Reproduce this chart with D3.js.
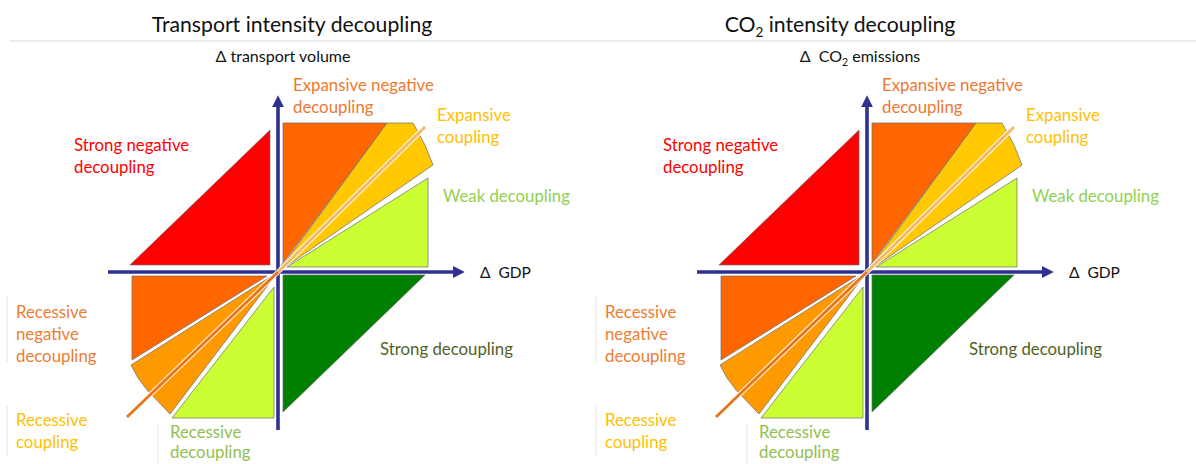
<!DOCTYPE html>
<html><head><meta charset="utf-8">
<script src="https://cdn.jsdelivr.net/npm/d3@7"></script>
<style>html,body{margin:0;padding:0;background:#fff;}svg{display:block;font-family:Lato,"Open Sans",sans-serif;}text{white-space:pre;}</style>
</head><body>
<svg id="chart" width="1196" height="464"></svg>
<script>
// ---- data (offsets from the axes crossing: x = Δ GDP, y = Δ volume / emissions) ----
const panelTitles = ["Transport intensity decoupling", "CO₂ intensity decoupling"];
const yAxisLabels = ["Δ transport volume", "Δ  CO₂ emissions"];
const xAxisLabel = "Δ  GDP";

const regionNames = ["Strong negative decoupling", "Expansive negative decoupling", "Expansive coupling",
  "Weak decoupling", "Strong decoupling", "Recessive negative decoupling", "Recessive coupling", "Recessive decoupling"];
const regionColors = ["#ff0000", "#ff6600", "#ffc800", "#ccff33", "#008000", "#ff6600", "#ff9900", "#ccff33"];
const regionShapes = [
  [[-148, 7], [-8, 142], [-8, 7]],
  [[5, 149], [109, 149], [3, 6], [5, 9]],
  [[0, 0], [109, 149], [135, 149], [147, 127], [155, 107]],
  [[9, 5], [150, 94], [150, 5]],
  [[5, -3], [147, -3], [5, -140]],
  [[-146, -4], [-11, -4], [-146, -88]],
  [[0, 0], [-147, -93], [-140, -106], [-131, -118], [-108, -142]],
  [[-106, -146], [-4, -146], [-4, -15]]
];
const couplingLineUpper = [[0, 0], [147, 145]];
const couplingLineLower = [[-151, -145], [0, 0]];
const xAxisRange = [-170, 187];
const yAxisRange = [-158, 177];

// label lines: [lines, x offset, y offset of first baseline, line gap, colour]
const labelLines = [
  [["Strong negative", "decoupling"], -204, -121, 22, "#ff0000"],
  [["Expansive negative", "decoupling"], 15, -181, 22, "#f07830"],
  [["Expansive", "coupling"], 159, -151, 22, "#ffc000"],
  [["Weak decoupling"], 165, -70, 22, "#92d050"],
  [["Strong decoupling"], 102, 83, 22, "#4f6228"],
  [["Recessive", "negative", "decoupling"], -262, 46, 22, "#ed7d31"],
  [["Recessive", "coupling"], -262, 154, 22, "#ffc000"],
  [["Recessive", "decoupling"], -108, 166, 20, "#92c050"]
];
const panelOrigins = [[278, 272], [867, 272]];
const titleCenters = [292, 840];
const yLabelCenters = [283, 860];

const svg = d3.select("#chart");

// header rule
svg.append("line").attr("x1", 10).attr("x2", 1196).attr("y1", 41).attr("y2", 41)
  .attr("stroke", "#d9d9d9").attr("stroke-width", 1.2);

const defs = svg.append("defs");
defs.append("marker").attr("id", "arrow").attr("viewBox", "0 0 10 10")
  .attr("refX", 2).attr("refY", 5).attr("markerWidth", 3.4).attr("markerHeight", 3.4)
  .attr("markerUnits", "strokeWidth").attr("orient", "auto")
  .append("path").attr("d", "M0,0 L10,5 L0,10 Z").attr("fill", "#2e3192");

panelOrigins.forEach((o, pi) => {
  const x = d3.scaleLinear().domain([-1, 1]).range([o[0] - 1, o[0] + 1]);
  const y = d3.scaleLinear().domain([-1, 1]).range([o[1] + 1, o[1] - 1]);
  const g = svg.append("g");

  // title
  const t = g.append("text").attr("x", titleCenters[pi]).attr("y", 32).attr("text-anchor", "middle")
    .attr("font-size", 21.2).attr("fill", "#111");
  if (pi === 0) t.text(panelTitles[0]);
  else {
    t.append("tspan").text("CO");
    t.append("tspan").text("2").attr("font-size", 13.5).attr("dy", 5);
    t.append("tspan").text(" intensity decoupling").attr("dy", -5);
  }
  const yl = g.append("text").attr("x", yLabelCenters[pi]).attr("y", 62).attr("text-anchor", "middle")
    .attr("font-size", 16).attr("fill", "#111");
  if (pi === 0) yl.text(yAxisLabels[0]);
  else {
    yl.append("tspan").text("Δ  CO");
    yl.append("tspan").text("2").attr("font-size", 10.5).attr("dy", 4);
    yl.append("tspan").text(" emissions").attr("dy", -4);
  }

  // axes
  g.append("line").attr("x1", x(xAxisRange[0])).attr("x2", x(xAxisRange[1] - 10))
    .attr("y1", y(0)).attr("y2", y(0)).attr("stroke", "#2e3192").attr("stroke-width", 3.6)
    .attr("marker-end", "url(#arrow)");
  g.append("line").attr("x1", x(0)).attr("x2", x(0))
    .attr("y1", y(yAxisRange[0])).attr("y2", y(yAxisRange[1] - 10)).attr("stroke", "#2e3192").attr("stroke-width", 3.6)
    .attr("marker-end", "url(#arrow)");

  // regions
  const line = d3.line().x(d => x(d[0])).y(d => y(d[1]));
  regionShapes.forEach((pts, i) => {
    g.append("path").attr("d", line(pts) + "Z").attr("fill", regionColors[i])
      .attr("stroke", "#6b6b6b").attr("stroke-width", 0.7).attr("stroke-linejoin", "round");
  });

  // coupling line
  [[couplingLineUpper, "#f5b868"], [couplingLineLower, "#e8741c"]].forEach(([seg, c]) => {
    g.append("path").attr("d", line(seg)).attr("stroke", "#ffffff").attr("stroke-width", 5).attr("fill", "none").attr("opacity", 0.85);
    g.append("path").attr("d", line(seg)).attr("stroke", c).attr("stroke-width", 2.8).attr("fill", "none").attr("stroke-linecap", "butt");
  });

  // x-axis label
  g.append("text").attr("x", x(202)).attr("y", y(-6)).attr("font-size", 15.5).attr("fill", "#111").text(xAxisLabel);

  // faint text-box edges
  const faint = [[[-271, -25], [-271, -90]], [[-271, -134], [-271, -185]], [[-120, -153], [-120, -192]]];
  faint.forEach(s => g.append("path").attr("d", line(s)).attr("stroke", "#e3e3e3").attr("stroke-width", 1).attr("fill", "none"));

  // region labels
  labelLines.forEach(([lines, dx, dy, gap, c]) => {
    const tx = g.append("text").attr("font-size", 16.8).attr("fill", c);
    lines.forEach((s, k) => tx.append("tspan").attr("x", x(dx)).attr("y", o[1] + dy + k * gap).text(s));
  });
});
</script>
</body></html>
